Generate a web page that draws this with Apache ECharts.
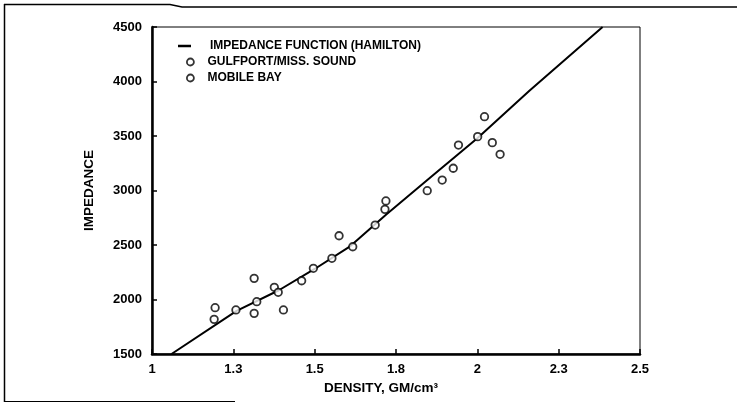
<!DOCTYPE html>
<html>
<head>
<meta charset="utf-8">
<script src="https://cdn.jsdelivr.net/npm/echarts@6/dist/echarts.min.js"></script>
<style>
html,body{margin:0;padding:0;background:#fff;}
#chart{width:737px;height:405px;}
</style>
</head>
<body>
<div id="chart"></div>
<script>
// ---- data ----
var xTickLabels = ["1", "1.3", "1.5", "1.8", "2", "2.3", "2.5"];
var yTickLabels = ["1500", "2000", "2500", "3000", "3500", "4000", "4500"];

var lineDensity   = [1.06, 1.26, 1.39, 1.50, 1.61, 1.72, 1.86, 2.00, 2.16, 2.385];
var lineImpedance = [1500, 1895, 2085, 2280, 2490, 2780, 3130, 3480, 3915, 4500];

var gulfDensity   = [1.194, 1.191, 1.258, 1.314, 1.314, 1.322, 1.376, 1.388, 1.404, 1.460, 1.496, 1.553];
var gulfImpedance = [1925, 1818, 1904, 2194, 1873, 1980, 2112, 2066, 1904, 2172, 2286, 2378];

var mobileDensity   = [1.575, 1.617, 1.686, 1.716, 1.719, 1.846, 1.892, 1.926, 1.942, 2.001, 2.022, 2.046, 2.070];
var mobileImpedance = [2585, 2484, 2683, 2827, 2904, 2998, 3096, 3204, 3417, 3494, 3677, 3439, 3332];

var seriesNames = ["IMPEDANCE FUNCTION (HAMILTON)", "GULFPORT/MISS. SOUND", "MOBILE BAY"];

function pairs(xs, ys) { return xs.map(function (x, i) { return [x, ys[i]]; }); }

var FONT = "'Liberation Sans', Arial, Helvetica, sans-serif";
var chart = echarts.init(document.getElementById('chart'), null, {renderer: 'canvas'});

var circleStyle = {color: '#fff', borderColor: '#000', borderWidth: 1.8};

chart.setOption({
  backgroundColor: '#fff',
  animation: false,
  textStyle: {fontFamily: FONT, fontWeight: 'bold', color: '#000'},
  grid: {left: 152, right: 97, top: 27, bottom: 51, show: true, borderColor: '#000', borderWidth: 1, backgroundColor: 'transparent'},
  legend: [
    {
      data: [{name: seriesNames[0], icon: 'rect', itemStyle: {color: '#000', borderWidth: 0}}],
      left: 178, top: 40, orient: 'vertical', padding: 0,
      itemWidth: 13, itemHeight: 2.5, selectedMode: false,
      textStyle: {fontFamily: FONT, fontWeight: 'bold', fontSize: 12, color: '#000', lineHeight: 12, padding: [0, 0, 0, 14]}
    },
    {
      data: [seriesNames[1], seriesNames[2]],
      left: 186, top: 56, orient: 'vertical', padding: 0,
      itemWidth: 14, itemHeight: 7, itemGap: 4, selectedMode: false,
      itemStyle: circleStyle,
      textStyle: {fontFamily: FONT, fontWeight: 'bold', fontSize: 12, color: '#000', lineHeight: 12, padding: [0, 0, 0, 5]}
    }
  ],
  xAxis: {
    type: 'value', min: 1, max: 2.5, interval: 0.25,
    name: 'DENSITY, GM/cm³', nameLocation: 'middle', nameGap: 27,
    nameTextStyle: {fontFamily: FONT, fontWeight: 'bold', fontSize: 13.5, color: '#000', padding: [0, 30, 0, 0]},
    axisLine: {show: true, lineStyle: {color: '#000', width: 2.5}},
    axisTick: {show: true, inside: true, length: 5, lineStyle: {color: '#000', width: 1.5}},
    axisLabel: {
      margin: 9, fontFamily: FONT, fontWeight: 'bold', fontSize: 13, color: '#000',
      formatter: function (v) { return xTickLabels[Math.round((v - 1) / 0.25)]; }
    },
    splitLine: {show: false}
  },
  yAxis: {
    type: 'value', min: 1500, max: 4500, interval: 500,
    name: 'IMPEDANCE', nameLocation: 'middle', nameGap: 56, nameRotate: 90,
    nameTextStyle: {fontFamily: FONT, fontWeight: 'bold', fontSize: 13.5, color: '#000'},
    axisLine: {show: true, lineStyle: {color: '#000', width: 2.5}},
    axisTick: {show: true, inside: true, length: 5, lineStyle: {color: '#000', width: 1.5}},
    axisLabel: {
      margin: 10, fontFamily: FONT, fontWeight: 'bold', fontSize: 13, color: '#000',
      formatter: function (v) { return yTickLabels[Math.round((v - 1500) / 500)]; }
    },
    splitLine: {show: false}
  },
  graphic: [
    {type: 'polyline', shape: {points: [[4, 4.5], [170, 4.5], [182, 7], [737, 7]]}, style: {stroke: '#000', lineWidth: 1.5, fill: null}},
    {type: 'line', shape: {x1: 4.5, y1: 4, x2: 4.5, y2: 402}, style: {stroke: '#000', lineWidth: 1.5}},
    {type: 'line', shape: {x1: 4, y1: 401.5, x2: 235, y2: 401.5}, style: {stroke: '#000', lineWidth: 1}}
  ],
  series: [
    {
      name: seriesNames[0], type: 'line', data: pairs(lineDensity, lineImpedance),
      symbol: 'none', smooth: false, lineStyle: {color: '#000', width: 2}, itemStyle: {color: '#000'}, z: 2
    },
    {
      name: seriesNames[1], type: 'scatter', data: pairs(gulfDensity, gulfImpedance),
      symbol: 'circle', symbolSize: 7.5, itemStyle: circleStyle, z: 3
    },
    {
      name: seriesNames[2], type: 'scatter', data: pairs(mobileDensity, mobileImpedance),
      symbol: 'circle', symbolSize: 7.5, itemStyle: circleStyle, z: 3
    }
  ]
});
</script>
</body>
</html>
